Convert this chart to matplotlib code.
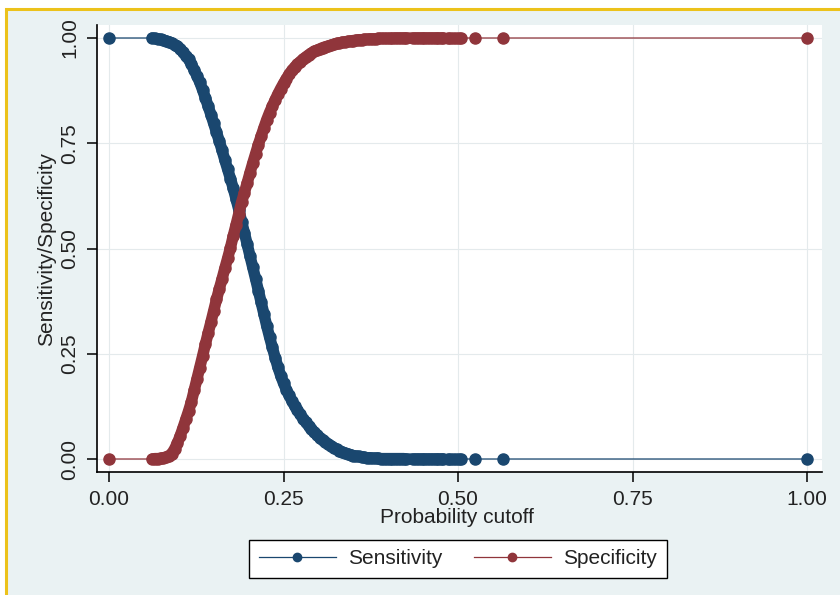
import matplotlib
matplotlib.use('Agg')
import matplotlib.pyplot as plt
from matplotlib.patches import Rectangle

plt.rcParams['font.family'] = ['Liberation Sans', 'DejaVu Sans']

# probability cutoffs and the sensitivity / specificity at each cutoff
cutoff = [
    0.000, 0.062, 0.066, 0.070, 0.074, 0.078, 0.082, 0.086, 0.090, 0.094, 0.098,
    0.102, 0.106, 0.110, 0.114, 0.118, 0.122, 0.126, 0.130, 0.134, 0.138,
    0.142, 0.146, 0.150, 0.154, 0.158, 0.162, 0.166, 0.170, 0.174, 0.178,
    0.182, 0.186, 0.190, 0.194, 0.198, 0.202, 0.206, 0.210, 0.214, 0.218,
    0.222, 0.226, 0.230, 0.234, 0.238, 0.242, 0.246, 0.250, 0.254, 0.258,
    0.262, 0.266, 0.270, 0.274, 0.278, 0.282, 0.286, 0.290, 0.294, 0.298,
    0.302, 0.306, 0.310, 0.314, 0.318, 0.322, 0.326, 0.330, 0.334, 0.338,
    0.342, 0.346, 0.350, 0.354, 0.358, 0.362, 0.366, 0.370, 0.374, 0.378,
    0.382, 0.386, 0.390, 0.394, 0.398, 0.402, 0.406, 0.410, 0.414, 0.418,
    0.422, 0.426, 0.436, 0.440, 0.444, 0.448, 0.452, 0.456, 0.460, 0.464,
    0.468, 0.472, 0.476, 0.479, 0.485, 0.489, 0.493, 0.497, 0.501, 0.505,
    0.524, 0.565, 1.000,
]

sensitivity = [
    1.000, 1.000, 0.999, 0.998, 0.997, 0.995, 0.993, 0.991, 0.988, 0.984, 0.980,
    0.975, 0.966, 0.958, 0.949, 0.938, 0.924, 0.910, 0.895, 0.877, 0.858,
    0.838, 0.818, 0.797, 0.776, 0.755, 0.733, 0.710, 0.688, 0.666, 0.643,
    0.618, 0.592, 0.564, 0.537, 0.510, 0.482, 0.455, 0.428, 0.400, 0.372,
    0.344, 0.316, 0.290, 0.265, 0.241, 0.218, 0.198, 0.180, 0.165, 0.151,
    0.138, 0.126, 0.116, 0.106, 0.096, 0.087, 0.079, 0.071, 0.064, 0.058,
    0.051, 0.045, 0.040, 0.035, 0.031, 0.027, 0.023, 0.020, 0.017, 0.014,
    0.012, 0.010, 0.008, 0.007, 0.006, 0.005, 0.004, 0.003, 0.003, 0.002,
    0.002, 0.002, 0.001, 0.001, 0.001, 0.001, 0.001, 0.001, 0.001, 0.001,
    0.001, 0.000, 0.000, 0.000, 0.000, 0.000, 0.000, 0.000, 0.000, 0.000,
    0.000, 0.000, 0.000, 0.000, 0.000, 0.000, 0.000, 0.000, 0.000, 0.000,
    0.000, 0.000, 0.000,
]

specificity = [
    0.000, 0.000, 0.001, 0.001, 0.002, 0.003, 0.005, 0.008, 0.013, 0.024, 0.038,
    0.055, 0.074, 0.094, 0.114, 0.136, 0.163, 0.190, 0.217, 0.244, 0.272,
    0.299, 0.325, 0.352, 0.379, 0.404, 0.428, 0.453, 0.477, 0.502, 0.530,
    0.556, 0.583, 0.610, 0.633, 0.656, 0.680, 0.703, 0.725, 0.747, 0.767,
    0.787, 0.806, 0.823, 0.838, 0.853, 0.867, 0.880, 0.892, 0.903, 0.914,
    0.923, 0.931, 0.938, 0.944, 0.950, 0.955, 0.960, 0.964, 0.968, 0.971,
    0.974, 0.977, 0.979, 0.981, 0.983, 0.985, 0.987, 0.988, 0.990, 0.991,
    0.992, 0.993, 0.994, 0.995, 0.996, 0.996, 0.997, 0.997, 0.998, 0.998,
    0.998, 0.999, 0.999, 0.999, 0.999, 0.999, 0.999, 1.000, 1.000, 1.000,
    1.000, 1.000, 1.000, 1.000, 1.000, 1.000, 1.000, 1.000, 1.000, 1.000,
    1.000, 1.000, 1.000, 1.000, 1.000, 1.000, 1.000, 1.000, 1.000, 1.000,
    1.000, 1.000, 1.000,
]

ticks = [0, 0.25, 0.5, 0.75, 1]
tick_labels = ['0.00', '0.25', '0.50', '0.75', '1.00']

navy = '#1a476f'
maroon = '#90353b'
bg = '#eaf2f3'

# the closely spaced cutoffs (0.062 .. 0.479) overlap into one solid band
dense = slice(1, 105)

fig = plt.figure(figsize=(8.4, 5.95), dpi=100, facecolor='white')
# bluish graph region with the gold frame, kept behind the axes
fig.patches.append(Rectangle((6 / 840, -0.02), 1.02, 1 - 9 / 595 + 0.02,
                             transform=fig.transFigure, facecolor=bg,
                             edgecolor='#ecc21b', lw=2.2, zorder=-10))

ax = fig.add_axes([97 / 840, 123 / 595, 725 / 840, 447 / 595])
ax.set_facecolor('white')

for vals, col, name, z in [(sensitivity, navy, 'Sensitivity', 3),
                           (specificity, maroon, 'Specificity', 5)]:
    ax.plot(cutoff[dense], vals[dense], color=col, lw=8.2,
            solid_joinstyle='round', solid_capstyle='round', zorder=z)
    ax.plot(cutoff, vals, color=col, lw=0.9, marker='o', ms=8,
            mec=col, mfc=col, label=name, zorder=z + 1)

ax.set_xlim(-12 / 698, 1 + 15 / 698)
ax.set_ylim(-13 / 421, 1 + 13 / 421)
ax.set_xticks(ticks)
ax.set_xticklabels(tick_labels)
ax.set_yticks(ticks)
ax.set_yticklabels(tick_labels, rotation=90, va='center')
ax.grid(True, color='#e4eaec', lw=0.8)
ax.set_axisbelow(True)

for side in ['top', 'right']:
    ax.spines[side].set_visible(False)
for side in ['left', 'bottom']:
    ax.spines[side].set_color('black')
    ax.spines[side].set_linewidth(1.2)

ax.tick_params(direction='out', length=7, width=1.1, color='black',
               labelsize=15, labelcolor='#222222', pad=6)

ax.set_xlabel('Probability cutoff', fontsize=15, color='#222222')
ax.xaxis.set_label_coords(0.497, -0.102)
ax.xaxis.label.set_va('center')
ax.set_ylabel('Sensitivity/Specificity', fontsize=15, color='#222222')
ax.yaxis.set_label_coords(-0.069, 0.5)
ax.yaxis.label.set_va('center')

leg = fig.legend(loc='center', bbox_to_anchor=(458 / 840, 36 / 595), ncol=2,
                 fontsize=15, frameon=True, fancybox=False, framealpha=1,
                 handlelength=3.7, handletextpad=0.6, columnspacing=1.5,
                 borderpad=0.45, markerscale=0.75)
leg.get_frame().set_edgecolor('black')
leg.get_frame().set_linewidth(1.0)
leg.get_frame().set_facecolor('white')
for t in leg.get_texts():
    t.set_color('#222222')

fig.savefig('out.png', dpi=100, facecolor=fig.get_facecolor())
